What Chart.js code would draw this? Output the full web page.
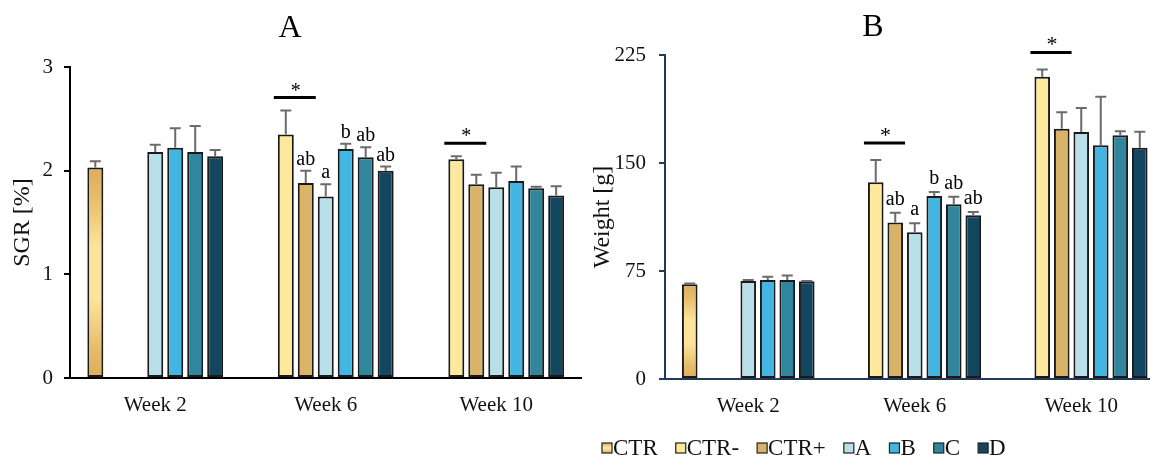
<!DOCTYPE html>
<html>
<head>
<meta charset="utf-8">
<script src="https://cdn.jsdelivr.net/npm/chart.js@4.4.1/dist/chart.umd.min.js"></script>
<style>
  html, body { margin: 0; padding: 0; background: #fff; overflow: hidden; width: 1150px; height: 457px; }
  #wrap { position: relative; width: 1150px; height: 457px; overflow: hidden; }
  #chartA { position: absolute; left: 0; top: 0; }
  #chartB { position: absolute; left: 580px; top: 0; }
</style>
</head>
<body>
<div id="wrap">
  <canvas id="chartA" width="585" height="457"></canvas>
  <canvas id="chartB" width="600" height="457"></canvas>
</div>
<script>
// ---- categories and series ----
const weeks = ['Week 2', 'Week 6', 'Week 10'];
const seriesNames = ['CTR', 'CTR-', 'CTR+', 'A', 'B', 'C', 'D'];
const seriesColors = ['#e9c27a', '#fde89b', '#d9b468', '#b9dfe9', '#43b5e1', '#31869e', '#13475f'];

// ---- panel A: specific growth rate [%] (mean, SD) ----
const sgrCTR      = [2.03, null, null];
const sgrCTRminus = [null, 2.35, 2.11];
const sgrCTRplus  = [null, 1.88, 1.87];
const sgrA        = [2.18, 1.75, 1.84];
const sgrB        = [2.22, 2.21, 1.90];
const sgrC        = [2.18, 2.13, 1.83];
const sgrD        = [2.14, 2.00, 1.76];

const sgrCTRsd      = [0.06, null, null];
const sgrCTRminusSd = [null, 0.23, 0.03];
const sgrCTRplusSd  = [null, 0.12, 0.09];
const sgrAsd        = [0.07, 0.12, 0.14];
const sgrBsd        = [0.19, 0.05, 0.14];
const sgrCsd        = [0.25, 0.095, 0.015];
const sgrDsd        = [0.06, 0.04, 0.09];

// ---- panel B: body weight [g] (mean, SD) ----
const wCTR      = [65.8, null, null];
const wCTRminus = [null, 136.6, 209.9];
const wCTRplus  = [null, 108.6, 173.8];
const wA        = [68.0, 101.9, 171.5];
const wB        = [68.8, 127.1, 162.3];
const wC        = [68.8, 121.3, 169.2];
const wD        = [67.8, 113.7, 160.6];

const wCTRsd      = [0.6, null, null];
const wCTRminusSd = [null, 15.5, 5.1];
const wCTRplusSd  = [null, 6.9, 11.4];
const wAsd        = [0.7, 6.2, 16.7];
const wBsd        = [2.2, 2.8, 33.7];
const wCsd        = [3.0, 5.3, 2.8];
const wDsd        = [0.3, 2.3, 11.1];

// ---- tick values ----
const sgrTicks = [0, 1, 2, 3];
const weightTicks = [0, 75, 150, 225];

// ---- significance marks ----
const letterWeek = 1;                                   // letters sit over Week 6
const groupLetters = ['', '', 'ab', 'a', 'b', 'ab', 'ab'];
const starWeeks = [1, 2];                               // CTR- vs CTR+ differ here

const SERIF = '"Liberation Serif", "Times New Roman", serif';

function ctrGradient(ctx, top, bottom) {
  const g = ctx.createLinearGradient(0, top, 0, bottom);
  g.addColorStop(0, '#dcae5f');
  g.addColorStop(0.12, '#e4b968');
  g.addColorStop(0.38, '#fde49c');
  g.addColorStop(0.62, '#fde49c');
  g.addColorStop(0.88, '#e4b968');
  g.addColorStop(1, '#dcae5f');
  return g;
}

function buildDatasets(values, errors) {
  return values.map((vals, i) => ({
    label: seriesNames[i],
    data: vals,
    errors: errors[i],
    backgroundColor: i === 0
      ? (c) => {
          const ch = c.chart;
          const v = c.raw;
          if (!ch.chartArea || v == null) return seriesColors[0];
          const ys = ch.scales.y;
          return ctrGradient(ch.ctx, ys.getPixelForValue(v), ys.getPixelForValue(0));
        }
      : seriesColors[i],
    borderColor: '#1a1a1a',
    borderWidth: 2,
    borderSkipped: false,
    categoryPercentage: 0.82,
    barPercentage: 0.8
  }));
}

// upward error bars with caps
const errorBars = {
  id: 'errorBars',
  afterDatasetsDraw(chart) {
    const { ctx } = chart;
    const ys = chart.scales.y;
    ctx.save();
    ctx.strokeStyle = '#6b6b6b';
    ctx.lineWidth = 2;
    chart.data.datasets.forEach((ds, i) => {
      chart.getDatasetMeta(i).data.forEach((bar, j) => {
        const v = ds.data[j], e = ds.errors[j];
        if (v == null || e == null) return;
        const yTop = ys.getPixelForValue(v + e);
        ctx.beginPath();
        ctx.moveTo(bar.x, bar.y);
        ctx.lineTo(bar.x, yTop);
        ctx.moveTo(bar.x - 5.5, yTop);
        ctx.lineTo(bar.x + 5.5, yTop);
        ctx.stroke();
      });
    });
    ctx.restore();
  }
};

// panel letter, group letters and significance bars
const marks = {
  id: 'marks',
  afterDraw(chart, args, opts) {
    const { ctx } = chart;
    const ys = chart.scales.y;
    const ds = chart.data.datasets;
    const errTop = (i, j) => ys.getPixelForValue(ds[i].data[j] + (ds[i].errors[j] || 0));
    ctx.save();
    ctx.fillStyle = '#000';
    ctx.font = '32px ' + SERIF;
    ctx.textAlign = 'center';
    ctx.textBaseline = 'alphabetic';
    ctx.fillText(opts.panel, opts.panelX, opts.panelY);

    ctx.font = '20px ' + SERIF;
    groupLetters.forEach((txt, i) => {
      if (!txt) return;
      const bar = chart.getDatasetMeta(i).data[letterWeek];
      ctx.fillText(txt, bar.x, errTop(i, letterWeek) - opts.letterGap);
    });

    ctx.font = opts.starSize + 'px ' + SERIF;
    starWeeks.forEach((j) => {
      const b1 = chart.getDatasetMeta(1).data[j];
      const b2 = chart.getDatasetMeta(2).data[j];
      const left = b1.x - b1.width / 2 - 4;
      const right = b2.x + b2.width / 2 + 2;
      const y = Math.min(errTop(1, j), errTop(2, j)) - opts.starGap;
      ctx.strokeStyle = '#000';
      ctx.lineWidth = 3;
      ctx.beginPath();
      ctx.moveTo(left, y);
      ctx.lineTo(right, y);
      ctx.stroke();
      ctx.fillText('*', (left + right) / 2 + 1, y - 1);
    });
    ctx.restore();
  }
};

// series key along the bottom
const seriesKey = {
  id: 'seriesKey',
  afterDraw(chart, args, opts) {
    if (!opts.show) return;
    const { ctx } = chart;
    ctx.save();
    ctx.font = '23px ' + SERIF;
    ctx.textBaseline = 'alphabetic';
    ctx.textAlign = 'left';
    let x = opts.x;
    const y = opts.y;
    seriesNames.forEach((name, i) => {
      ctx.fillStyle = i === 0 ? ctrGradient(ctx, y - 5, y + 5) : seriesColors[i];
      ctx.fillRect(x, y - 5, 10, 10);
      ctx.strokeStyle = '#222';
      ctx.lineWidth = 1.2;
      ctx.strokeRect(x, y - 5, 10, 10);
      ctx.fillStyle = '#111';
      ctx.fillText(name, x + 11, y + 7);
      x += 11 + ctx.measureText(name).width + 18;
    });
    ctx.restore();
  }
};

function makePanel(canvasId, cfg) {
  return new Chart(document.getElementById(canvasId), {
    type: 'bar',
    data: { labels: weeks, datasets: buildDatasets(cfg.values, cfg.errors) },
    options: {
      responsive: false,
      animation: false,
      layout: { padding: { left: 0, top: cfg.top, right: cfg.right, bottom: 0 } },
      plugins: {
        legend: { display: false },
        tooltip: { enabled: false },
        marks: cfg.marks,
        seriesKey: cfg.key
      },
      scales: {
        x: {
          grid: { display: false, drawTicks: false },
          border: { display: true, color: cfg.axisColor, width: 2 },
          ticks: { font: { family: SERIF, size: 21 }, color: '#111', padding: 15 },
          afterFit: (s) => { s.height = 457 - cfg.bottom; }
        },
        y: {
          min: cfg.ticks[0],
          max: cfg.ticks[cfg.ticks.length - 1],
          afterBuildTicks: (s) => { s.ticks = cfg.ticks.map((v) => ({ value: v })); },
          grid: { display: true, drawOnChartArea: false, drawTicks: true, tickLength: 6, color: cfg.axisColor, lineWidth: 2 },
          border: { display: true, color: cfg.axisColor, width: 2 },
          ticks: { font: { family: SERIF, size: 21 }, color: '#111', padding: cfg.tickPad },
          title: { display: true, text: cfg.title, font: { family: SERIF, size: 24 }, color: '#111', padding: { top: 8, bottom: 0 } },
          afterFit: (s) => { s.width = cfg.axisLeft; }
        }
      }
    },
    plugins: [errorBars, marks, seriesKey]
  });
}

makePanel('chartA', {
  values: [sgrCTR, sgrCTRminus, sgrCTRplus, sgrA, sgrB, sgrC, sgrD],
  errors: [sgrCTRsd, sgrCTRminusSd, sgrCTRplusSd, sgrAsd, sgrBsd, sgrCsd, sgrDsd],
  ticks: sgrTicks,
  title: 'SGR [%]',
  axisColor: '#000',
  top: 67, bottom: 378, right: 3.5, axisLeft: 70, tickPad: 11,
  marks: { panel: 'A', panelX: 290, panelY: 37, letterGap: 6, starGap: 13, starSize: 20 },
  key: { show: false }
});

makePanel('chartB', {
  values: [wCTR, wCTRminus, wCTRplus, wA, wB, wC, wD],
  errors: [wCTRsd, wCTRminusSd, wCTRplusSd, wAsd, wBsd, wCsd, wDsd],
  ticks: weightTicks,
  title: 'Weight [g]',
  axisColor: '#1f3b57',
  top: 55, bottom: 379, right: 15.5, axisLeft: 85, tickPad: 13,
  marks: { panel: 'B', panelX: 293, panelY: 36, letterGap: 8, starGap: 17, starSize: 22 },
  key: { show: true, x: 22, y: 448 }
});
</script>
</body>
</html>
